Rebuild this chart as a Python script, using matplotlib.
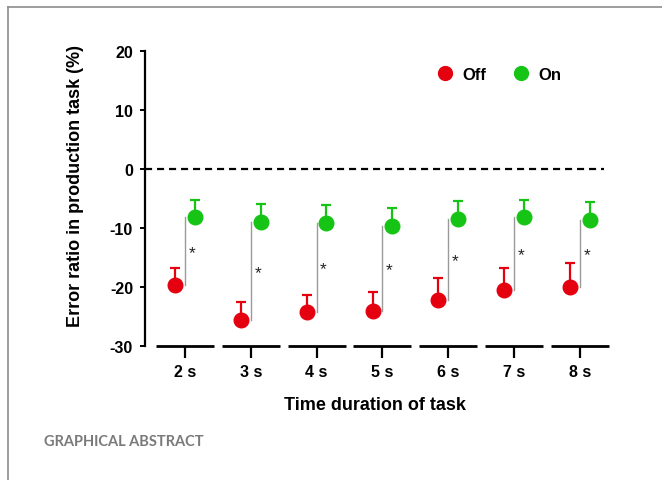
import matplotlib
matplotlib.use("Agg")
import matplotlib.pyplot as plt
from matplotlib.lines import Line2D
import numpy as np

categories = ["2 s", "3 s", "4 s", "5 s", "6 s", "7 s", "8 s"]
off_mean = [-19.6, -25.6, -24.3, -24.0, -22.2, -20.5, -20.0]
off_err = [2.9, 3.0, 2.9, 3.2, 3.7, 3.8, 4.0]
on_mean = [-8.2, -9.0, -9.1, -9.7, -8.5, -8.2, -8.7]
on_err = [3.0, 3.1, 3.0, 3.1, 3.0, 3.0, 3.1]
y_ticks = [-30, -20, -10, 0, 10, 20]

RED = "#e50010"
GREEN = "#16c416"
FONT = "Liberation Sans"

W, H = 662, 481
fig = plt.figure(figsize=(W / 100, H / 100), dpi=100)
plt.rcParams["font.family"] = [FONT, "DejaVu Sans"]

def fx(px):
    return px / W

def fy(py):
    return 1 - py / H

ax_l, ax_r, ax_t, ax_b = 145, 610, 52, 347
ax = fig.add_axes([fx(ax_l), fy(ax_b), (ax_r - ax_l) / W, (ax_b - ax_t) / H])

x = np.arange(len(categories))
unit = 65.8
ax.set_xlim((ax_l - 185) / unit, (ax_r - 185) / unit)
ax.set_ylim(-30, 20)

off_x = x - 0.15
on_x = x + 0.15

# significance lines
for i in range(len(x)):
    ax.plot([x[i], x[i]], [on_mean[i], off_mean[i]], color="#9a9a9a", lw=1.0, zorder=1)
    ax.annotate("*", xy=(x[i], (on_mean[i] + off_mean[i]) / 2), xytext=(5, -1),
                textcoords="offset points", ha="center", va="center",
                fontsize=12.5, color="#222222")

# one-sided error bars
ax.errorbar(off_x, off_mean, yerr=[np.zeros(len(x)), off_err], fmt="none",
            ecolor=RED, elinewidth=1.6, capsize=3.3, capthick=1.6, zorder=2)
ax.errorbar(on_x, on_mean, yerr=[np.zeros(len(x)), on_err], fmt="none",
            ecolor=GREEN, elinewidth=1.6, capsize=3.3, capthick=1.6, zorder=2)
ax.plot(off_x, off_mean, "o", color=RED, ms=10.5, mec=RED, zorder=3, label="Off")
ax.plot(on_x, on_mean, "o", color=GREEN, ms=10.5, mec=GREEN, zorder=3, label="On")

# zero dashed line
ax.plot([ax.get_xlim()[0], (604 - 185) / unit], [0, 0], color="black", lw=1.6,
        ls=(0, (3.2, 2.2)), zorder=1)

# segmented x axis
for xi in x:
    ax.plot([xi - 0.44, xi + 0.44], [-30, -30], color="black", lw=2.0,
            clip_on=False, solid_capstyle="butt", zorder=4)

ax.spines["top"].set_visible(False)
ax.spines["right"].set_visible(False)
ax.spines["bottom"].set_visible(False)
ax.spines["left"].set_linewidth(1.6)

ax.set_xticks(x)
ax.set_xticklabels(categories, fontsize=11.5, fontweight="bold")
ax.set_yticks(y_ticks)
ax.set_yticklabels([str(v) for v in y_ticks], fontsize=11.5, fontweight="bold")
ax.tick_params(axis="x", direction="out", length=8.6, width=1.6, pad=4.5)
ax.tick_params(axis="y", direction="out", length=3.6, width=1.4, pad=5)

ax.set_ylabel("Error ratio in production task (%)", fontsize=13, fontweight="bold")
ax.yaxis.set_label_coords((84 - ax_l) / (ax_r - ax_l), (ax_b - 186) / (ax_b - ax_t))
ax.set_xlabel("Time duration of task", fontsize=13, fontweight="bold")
ax.xaxis.set_label_coords((375 - ax_l) / (ax_r - ax_l), (ax_b - 397) / (ax_b - ax_t))

leg = ax.legend(loc="center left", bbox_to_anchor=(fx(437), fy(75)),
                bbox_transform=fig.transFigure, ncol=2, frameon=False,
                handlelength=1.0, handletextpad=0.55, columnspacing=1.55,
                borderpad=0, borderaxespad=0, prop={"family": FONT, "weight": "bold", "size": 12},
                markerscale=0.95)

# page frame
fig.add_artist(Line2D([fx(8), fx(8)], [fy(8), 0], color="#8c8c8c", lw=1.2))
fig.add_artist(Line2D([fx(8), 1], [fy(8), fy(8)], color="#8c8c8c", lw=1.2))

fig.text(fx(44), fy(442), "GRAPHICAL ABSTRACT", family=["Lato", "DejaVu Sans"],
         fontweight="bold", fontsize=10.5, color="#7a7a7a", va="center", ha="left")

fig.savefig("out.png", dpi=100)
